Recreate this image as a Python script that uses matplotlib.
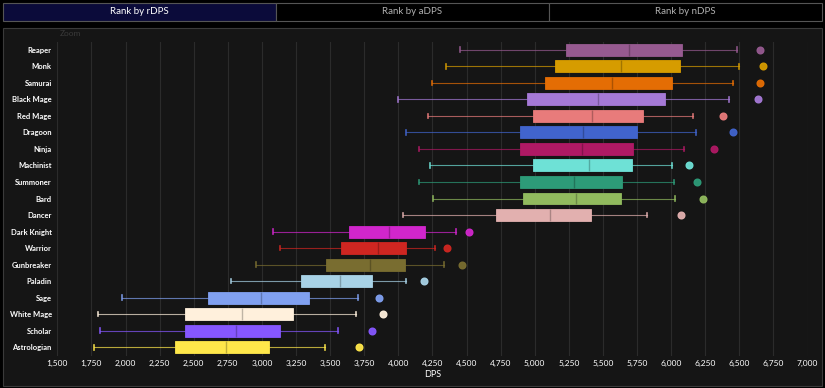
import matplotlib
matplotlib.use("Agg")
import matplotlib.pyplot as plt
from matplotlib.patches import Rectangle
from matplotlib.colors import to_rgb

plt.rcParams['font.family'] = ['Lato', 'DejaVu Sans']

# DPS distribution per job (box plot stats)
jobs = ['Reaper', 'Monk', 'Samurai', 'Black Mage', 'Red Mage', 'Dragoon', 'Ninja',
        'Machinist', 'Summoner', 'Bard', 'Dancer', 'Dark Knight', 'Warrior',
        'Gunbreaker', 'Paladin', 'Sage', 'White Mage', 'Scholar', 'Astrologian']
whislo = [4450, 4350, 4250, 4000, 4215, 4055, 4155, 4230, 4150, 4255, 4035,
          3085, 3130, 2955, 2770, 1975, 1795, 1815, 1770]
q1 = [5230, 5150, 5075, 4945, 4985, 4895, 4895, 4990, 4895, 4915, 4715,
      3640, 3580, 3470, 3285, 2605, 2435, 2435, 2360]
med = [5695, 5630, 5570, 5465, 5420, 5355, 5350, 5400, 5290, 5300, 5110,
       3930, 3850, 3795, 3570, 2995, 2855, 2810, 2735]
q3 = [6080, 6065, 6010, 5955, 5795, 5750, 5720, 5715, 5640, 5630, 5415,
      4195, 4060, 4050, 3810, 3345, 3230, 3135, 3050]
whishi = [6485, 6495, 6455, 6425, 6160, 6185, 6095, 6005, 6020, 6030, 5820,
          4420, 4270, 4335, 4055, 3705, 3690, 3560, 3465]
outlier = [6655, 6675, 6650, 6635, 6380, 6455, 6315, 6130, 6190, 6235, 6075,
           4520, 4360, 4465, 4190, 3860, 3885, 3810, 3710]
colors = ['#965A90', '#D69C00', '#E46D04', '#A579D6', '#E87B7B', '#4164CD', '#AF1964',
          '#6EE1D6', '#2D9B78', '#91BA5E', '#E2B0AF', '#D126CC', '#CF2621',
          '#796D30', '#A8D2E6', '#80A0F0', '#FFF0DC', '#8657FF', '#FFE74A']
tabs = ['Rank by rDPS', 'Rank by aDPS', 'Rank by nDPS']

W, H = 825, 388
fig = plt.figure(figsize=(W / 100, H / 100), dpi=100, facecolor='#000000')

# tab bar
tab_edges = [3, 276, 549, 822]
for i, t in enumerate(tabs):
    x0, x1 = tab_edges[i], tab_edges[i + 1]
    fig.patches.append(Rectangle((x0 / W, 1 - 20.5 / H), (x1 - x0) / W, 17.5 / H,
                                 transform=fig.transFigure,
                                 facecolor='#0b0b3a' if i == 0 else '#000000',
                                 edgecolor='#555555', lw=0.8, zorder=-5))
    fig.text((x0 + x1) / 2 / W, 1 - 11.8 / H, t, ha='center', va='center', fontsize=7,
             color='white' if i == 0 else '#b0b0b0')

# chart panel
fig.patches.append(Rectangle((3 / W, 2 / H), 819 / W, (386 - 27.5) / H,
                             transform=fig.transFigure, facecolor='#151515',
                             edgecolor='#3a3a3a', lw=0.8, zorder=-5))
fig.text(60 / W, 1 - 33 / H, 'Zoom', fontsize=6, color='#3a3a3a', va='center')

ax = fig.add_axes([57.3 / W, 1 - 355.5 / H, (807.5 - 57.3) / W, (355.5 - 41.5) / H])
ax.set_facecolor('#151515')

stats = []
for i in range(len(jobs)):
    stats.append({'label': jobs[i], 'whislo': whislo[i], 'q1': q1[i], 'med': med[i],
                  'q3': q3[i], 'whishi': whishi[i], 'fliers': [outlier[i]]})
pos = list(range(len(jobs)))
art = ax.bxp(stats, positions=pos, vert=False, widths=0.72, patch_artist=True,
             capwidths=0.28, manage_ticks=False)

for i, c in enumerate(colors):
    dark = tuple(v * 0.75 for v in to_rgb(c))
    art['boxes'][i].set(facecolor=c, edgecolor=c, lw=0.6)
    art['medians'][i].set(color=dark, lw=1)
    for w in art['whiskers'][2 * i:2 * i + 2]:
        w.set(color=c, alpha=0.7, lw=0.8)
    for cp in art['caps'][2 * i:2 * i + 2]:
        cp.set(color=c, lw=1.2, alpha=0.9)
    art['fliers'][i].set(marker='o', markerfacecolor=c, markeredgecolor=c,
                         markersize=4.8, alpha=0.95)

ax.set_ylim(len(jobs) - 0.5, -0.5)
ax.set_yticks(pos)
ax.set_yticklabels(jobs, fontsize=5.5, color='white', fontweight='bold')
ax.set_xlim(1500, 7000)
xt = list(range(1500, 7001, 250))
ax.set_xticks(xt)
ax.set_xticklabels([f'{v:,}' for v in xt], fontsize=6, color='white')
ax.set_xlabel('DPS', fontsize=6.5, color='white', labelpad=2)
ax.tick_params(axis='y', length=0, pad=4)
ax.tick_params(axis='x', length=0, pad=3)
ax.grid(axis='x', color='#2b2b2b', lw=0.8)
ax.set_axisbelow(True)
for s in ax.spines.values():
    s.set_visible(False)

fig.savefig('out.png', dpi=100, facecolor=fig.get_facecolor())
